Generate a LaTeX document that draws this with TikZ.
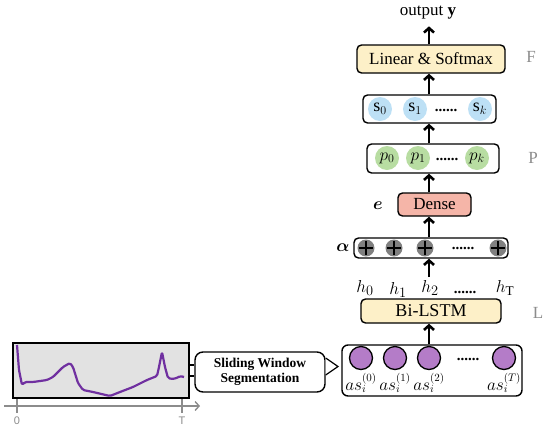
\documentclass[tikz,border=0pt]{standalone}
\usepackage{bm}
\usepackage{fontspec}
\setmainfont{Liberation Serif}
\setsansfont{Liberation Sans}
\usetikzlibrary{arrows.meta,calc}
\definecolor{boxyellow}{HTML}{FDF0C8}
\definecolor{densered}{HTML}{F5B5A8}
\definecolor{sblue}{HTML}{BDE0F5}
\definecolor{pgreen}{HTML}{B8DDA2}
\definecolor{inpurple}{HTML}{B47CC8}
\definecolor{sigpurple}{HTML}{7030A0}
\definecolor{sigbg}{HTML}{E2E2E2}
\definecolor{labgray}{HTML}{8C8C8C}
\tikzset{
  layerbox/.style={draw=black, line width=1.4pt, rounded corners=4.5pt, inner sep=0pt},
  upar/.style={line width=2.6pt, -{Straight Barb[length=4.5pt,width=10pt,line width=2.6pt]}},
  lay/.style={text=labgray, font=\fontsize{17}{17}\selectfont},
  dotsn/.style={font=\fontsize{15}{15}\selectfont\bfseries, inner sep=0pt},
  scirc/.style={circle, fill=sblue, minimum size=24pt, inner sep=0pt, font=\fontsize{18}{18}\selectfont},
  pcirc/.style={circle, fill=pgreen, minimum size=24pt, inner sep=0pt, font=\fontsize{18}{18}\selectfont},
  incirc/.style={circle, draw=black, line width=1.3pt, fill=inpurple, minimum size=23pt, inner sep=0pt},
  pluscirc/.style={circle, fill=gray, minimum size=17pt, inner sep=0pt},
  hlab/.style={font=\fontsize{19}{19}\selectfont, inner sep=0pt},
  aslab/.style={font=\fontsize{16}{16}\selectfont, inner sep=0pt},
}
\begin{document}
\begin{tikzpicture}[x=1pt,y=-1pt]
\useasboundingbox (0,0) rectangle (550,432);
\coordinate (ax) at (429,0);

% output
\node[font=\fontsize{17}{17}\selectfont, inner sep=1pt] (out) at (428,13) {output $\mathbf{y}$};
% Linear & softmax
\node[layerbox, fill=boxyellow, minimum width=148pt, minimum height=28pt, font=\fontsize{17}{17}\selectfont] (lin) at (431,59) {Linear \& Softmax};
\node[lay] (F) at (531,57) {F};
% s box
\node[layerbox, minimum width=133pt, minimum height=28pt] (sbox) at (429.5,109) {};
\node[scirc] (s0) at (380,109) {$\mathrm{s}_0$};
\node[scirc] (s1) at (415,109) {$\mathrm{s}_1$};
\node[dotsn] (sd) at (446,110) {......};
\node[scirc] (sk) at (480,109) {$\mathrm{s}_k$};
% p box
\node[layerbox, minimum width=132pt, minimum height=29pt] (pbox) at (433,158.5) {};
\node[pcirc] (p0) at (387,158) {$p_0$};
\node[pcirc] (p1) at (418,158) {$p_1$};
\node[dotsn] (pd) at (447,159) {......};
\node[pcirc] (pk) at (477,158) {$p_k$};
\node[lay] (P) at (533,158) {P};
% Dense
\node[layerbox, fill=densered, minimum width=73pt, minimum height=23pt, font=\fontsize{17}{17}\selectfont] (dense) at (434.5,204.5) {Dense};
\node[font=\fontsize{19}{19}\selectfont, inner sep=0pt] (e) at (378,206) {$\bm{e}$};
% alpha
\node[layerbox, minimum width=154pt, minimum height=20pt] (abox) at (431,248) {};
\foreach \i/\x in {1/366,2/394,3/425,4/498}{
  \node[pluscirc] (pl\i) at (\x,248) {};
  \draw[line width=1.4pt] ($(pl\i.west)+(1.5pt,0)$) -- ($(pl\i.east)+(-1.5pt,0)$);
  \draw[line width=1.4pt] ($(pl\i.north)+(0,-1.5pt)$) -- ($(pl\i.south)+(0,1.5pt)$);
}
\node[dotsn] (ad) at (463,248) {......};
\node[font=\fontsize{19}{19}\selectfont, inner sep=0pt] (alpha) at (343,248) {$\bm{\alpha}$};
% h labels
\node[hlab] (h0) at (365,288) {$h_0$};
\node[hlab] (h1) at (398,290) {$h_1$};
\node[hlab] (h2) at (430,288) {$h_2$};
\node[dotsn] (hd) at (465,292) {......};
\node[hlab] (hT) at (505,288) {$h_{\mathrm{T}}$};
% Bi-LSTM
\node[layerbox, fill=boxyellow, minimum width=140pt, minimum height=24pt, font=\fontsize{18}{18}\selectfont] (lstm) at (431,311) {Bi-LSTM};
\node[lay] (L) at (538,313) {L};
% input
\node[layerbox, rounded corners=6pt, minimum width=180pt, minimum height=51pt] (inbox) at (432,370.5) {};
\foreach \i/\x/\l in {0/361/0,1/395/1,2/429/2,3/504/T}{
  \node[incirc] (c\i) at (\x,358) {};
  \node[aslab] (as\i) at (\x,383) {$as_i^{(\l)}$};
}
\node[dotsn] (ind) at (468,359) {......};

% arrows
\draw[upar] (lin.north -| ax) -- ++(0,-18) coordinate (outend);
\draw[upar] (sbox.north -| ax) -- (lin.south -| ax);
\draw[upar] (pbox.north -| ax) -- (sbox.south -| ax);
\draw[upar] (dense.north -| ax) -- (pbox.south -| ax);
\draw[upar] (abox.north -| ax) -- (dense.south -| ax);
\draw[upar] ([yshift=3pt]h2.north -| ax) -- (abox.south -| ax);
\draw[upar] (inbox.north -| ax) -- (lstm.south -| ax);

% signal
\node[draw=black, line width=1.4pt, fill=sigbg, minimum width=176pt, minimum height=55pt, inner sep=0pt] (sig) at (101,370.5) {};
\draw[sigpurple, line width=2.2pt, line join=round, rounded corners=1.5pt]
  (17,345) -- (19,370) -- (22,385) -- (25,382) -- (33,382) -- (47,380) -- (53,377) -- (63,367) -- (70,363) -- (73,367)
  -- (78,383) -- (83,390) -- (93,392) -- (110,396) -- (120,392) -- (133,387) -- (147,380) -- (157,376)
  -- (159,367) -- (162,352) -- (165,367) -- (168,378) -- (172,379) -- (177,378) -- (180,376) -- (184,377);
% axis
\draw[labgray, line width=1.4pt, -{Straight Barb[length=4pt,width=9pt]}] (4,406) -- (200,406);
\draw[labgray, line width=1.4pt] (17,399) -- (17,413);
\draw[labgray, line width=1.4pt] (182,399) -- (182,413);
\node[text=labgray, font=\sffamily\fontsize{11}{11}\selectfont] (t0) at (17,421) {0};
\node[text=labgray, font=\sffamily\fontsize{11}{11}\selectfont] (tT) at (182,421) {T};

% sliding window
\node[layerbox, rounded corners=8pt, minimum width=130pt, minimum height=40pt, align=center, font=\fontsize{13.5}{15.5}\selectfont\bfseries] (slide) at (260,372) {Sliding Window\\Segmentation};
\draw[line width=1.2pt] (sig.east |- 0,365) -- (slide.west |- 0,365);
\draw[line width=1.2pt] (sig.east |- 0,376) -- (slide.west |- 0,376);
\draw[line width=1.2pt, line join=miter, fill=white] (slide.east |- 0,358) -- (338,366.5) -- (slide.east |- 0,375);
\end{tikzpicture}
\end{document}
